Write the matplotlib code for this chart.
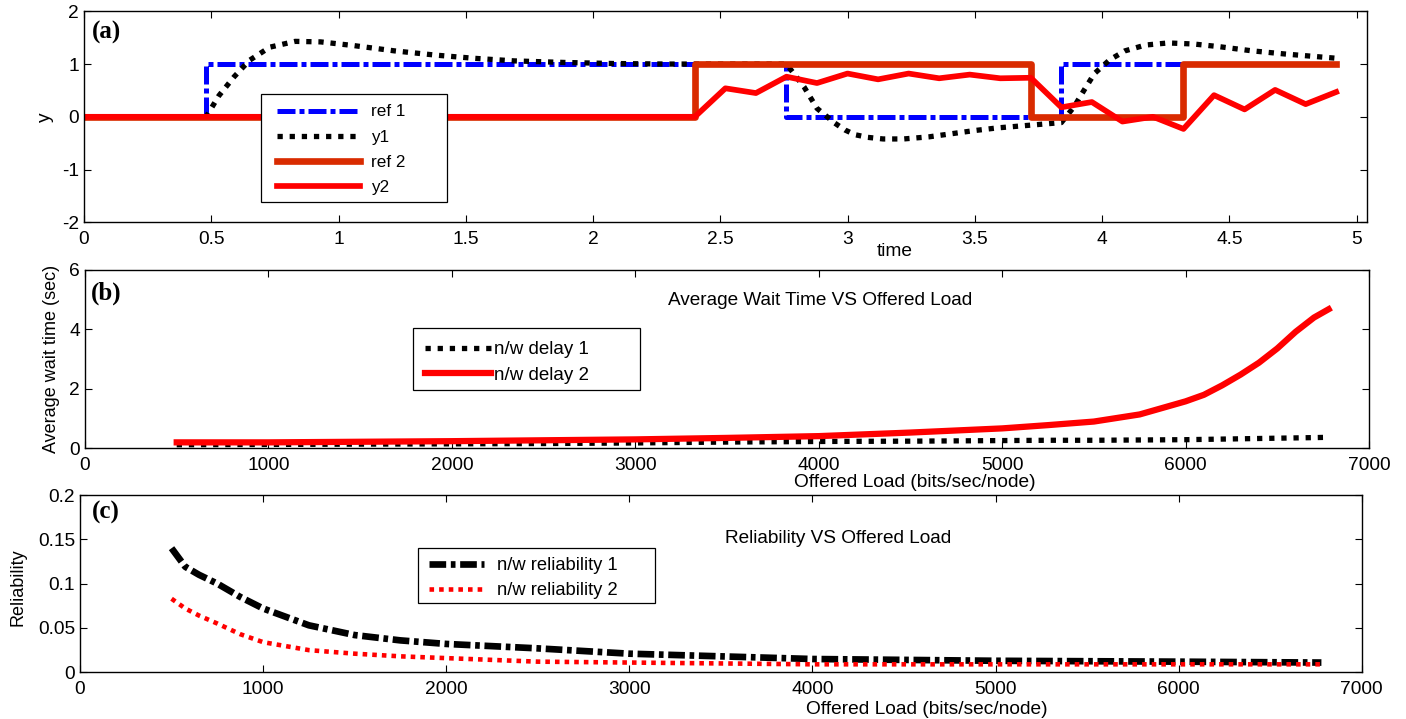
import matplotlib
matplotlib.use("Agg")
import matplotlib.pyplot as plt
from matplotlib.patches import Rectangle
from matplotlib.ticker import FuncFormatter

# ---- panel (a): step references and responses ----
ref1_t = [0, 0.48, 2.76, 3.84, 4.92]
ref1_v = [0, 1, 0, 1, 1]
ref2_t = [0, 2.40, 3.72, 4.32, 4.92]
ref2_v = [0, 1, 0, 1, 1]

y1_t = [0, 0.48, 0.53, 0.59, 0.65, 0.73, 0.83, 0.93, 1.06, 1.22, 1.38, 1.53,
        1.69, 1.89, 2.08, 2.30, 2.76, 2.83, 2.88, 2.92, 2.95, 2.99, 3.03, 3.08,
        3.14, 3.22, 3.32, 3.41, 3.50, 3.59, 3.74, 3.84, 3.89, 3.93, 3.97, 4.03,
        4.09, 4.17, 4.26, 4.36, 4.46, 4.59, 4.72, 4.92]
y1_v = [0, 0, 0.40, 0.76, 1.07, 1.32, 1.43, 1.42, 1.35, 1.25, 1.17, 1.11,
        1.06, 1.03, 1.01, 1.00, 1.00, 0.56, 0.16, 0.00, -0.12, -0.25, -0.34, -0.39,
        -0.42, -0.42, -0.38, -0.32, -0.26, -0.21, -0.15, -0.11, 0.19, 0.51, 0.82, 1.08,
        1.25, 1.36, 1.40, 1.38, 1.33, 1.25, 1.19, 1.11]

y2_t = [0, 2.40, 2.52, 2.64, 2.76, 2.88, 3.00, 3.12, 3.24, 3.36, 3.48, 3.60,
        3.72, 3.84, 3.96, 4.08, 4.20, 4.32, 4.44, 4.56, 4.68, 4.80, 4.92]
y2_v = [0, 0, 0.54, 0.45, 0.76, 0.64, 0.82, 0.71, 0.82, 0.73, 0.80, 0.73,
        0.74, 0.18, 0.28, -0.09, 0.00, -0.23, 0.41, 0.14, 0.51, 0.24, 0.47]

# ---- panel (b): average wait time ----
load_b = [500, 1000, 1500, 2000, 2500, 3000, 3500, 4000, 4500, 5000, 5250,
          5500, 5750, 6000, 6100, 6200, 6300, 6400, 6500, 6600, 6700, 6780]
delay1 = [0.12, 0.13, 0.14, 0.15, 0.16, 0.18, 0.21, 0.23, 0.24, 0.26, 0.27,
          0.27, 0.28, 0.29, 0.30, 0.31, 0.32, 0.33, 0.34, 0.35, 0.36, 0.37]
delay2 = [0.20, 0.20, 0.22, 0.24, 0.27, 0.30, 0.35, 0.41, 0.53, 0.67, 0.78,
          0.90, 1.14, 1.58, 1.80, 2.12, 2.48, 2.88, 3.36, 3.92, 4.40, 4.68]

# ---- panel (c): reliability ----
load_c = [500, 575, 650, 750, 875, 1000, 1250, 1500, 1750, 2000, 2500, 3000,
          3500, 4000, 4500, 5000, 6000, 6780]
rel1 = [0.140, 0.119, 0.110, 0.100, 0.085, 0.072, 0.053, 0.042, 0.036, 0.032,
        0.027, 0.021, 0.018, 0.015, 0.014, 0.013, 0.012, 0.011]
rel2 = [0.083, 0.072, 0.064, 0.055, 0.043, 0.034, 0.025, 0.021, 0.018, 0.016,
        0.012, 0.011, 0.010, 0.009, 0.009, 0.009, 0.009, 0.009]

W, H = 1406, 719
FS = 13.8
plt.rcParams["font.family"] = ["Liberation Sans", "DejaVu Sans"]
SERIF = ["Liberation Serif", "DejaVu Serif"]


def px_rect(left, top, right, bottom):
    return [left / W, 1 - bottom / H, (right - left) / W, (bottom - top) / H]


def style_axes(ax):
    for spine in ax.spines.values():
        spine.set_linewidth(1.0)
    ax.tick_params(direction="in", top=True, right=True, length=5, width=0.8,
                   labelsize=FS)
    ax.tick_params(axis="x", pad=6)
    ax.tick_params(axis="y", pad=3.5)
    ax.xaxis.set_major_formatter(FuncFormatter(lambda v, _: "%g" % v))
    ax.yaxis.set_major_formatter(FuncFormatter(lambda v, _: "%g" % v))


def boxed_legend(fig, handles, labels, box, anchor, size, hlen, hpad, spacing):
    l, t, r, b = box
    fig.add_artist(Rectangle((l / W, 1 - b / H), (r - l) / W, (b - t) / H,
                             transform=fig.transFigure, facecolor="white",
                             edgecolor="black", linewidth=0.9))
    fig.legend(handles, labels, loc="upper left",
               bbox_to_anchor=(anchor[0] / W, 1 - anchor[1] / H),
               frameon=False, borderpad=0, borderaxespad=0, fontsize=size,
               handlelength=hlen, handletextpad=hpad, labelspacing=spacing)


fig = plt.figure(figsize=(W / 100, H / 100), dpi=100)

# (a)
ax1 = fig.add_axes(px_rect(84, 11.3, 1367, 222.3))
h1, = ax1.step(ref1_t, ref1_v, where="post", color="#0000FF", lw=3.6,
               dashes=(3.6, 0.8, 1, 0.8))
h2, = ax1.plot(y1_t, y1_v, color="black", lw=3.8, dashes=(1, 1.3))
h3, = ax1.step(ref2_t, ref2_v, where="post", color="#D92B00", lw=4.8)
h4, = ax1.plot(y2_t, y2_v, color="#FF0000", lw=4.1)
ax1.set_xlim(0, 5.041)
ax1.set_ylim(-2, 2)
ax1.set_xticks([0, 0.5, 1, 1.5, 2, 2.5, 3, 3.5, 4, 4.5, 5])
ax1.set_yticks([-2, -1, 0, 1, 2])
style_axes(ax1)
ax1.set_xlabel("time", fontsize=FS, va="center")
ax1.xaxis.set_label_coords(0.632, -0.14)
ax1.set_ylabel("y", fontsize=FS, va="center")
ax1.yaxis.set_label_coords(-0.0304, 0.5)
ax1.text(0.0175, 0.9, "(a)", transform=ax1.transAxes, ha="center", va="center",
         fontsize=18, fontweight="bold", family=SERIF)
boxed_legend(fig, [h1, h2, h3, h4], ["ref 1", "y1", "ref 2", "y2"],
             (261, 94.3, 447, 201.5), (276.7, 104.5), 12.3, 4.87, 0.63, 0.6)

# (b)
ax2 = fig.add_axes(px_rect(85, 270, 1369, 448.3))
g1, = ax2.plot(load_b, delay1, color="black", lw=3.8, dashes=(1, 1.3))
g2, = ax2.plot(load_b, delay2, color="#FF0000", lw=4.5)
ax2.set_xlim(0, 7000)
ax2.set_ylim(0, 6)
ax2.set_xticks(range(0, 7001, 1000))
ax2.set_yticks([0, 2, 4, 6])
style_axes(ax2)
ax2.set_xlabel("Offered Load (bits/sec/node)", fontsize=FS, va="center")
ax2.xaxis.set_label_coords(0.646, -0.19)
ax2.set_ylabel("Average wait time (sec)", fontsize=13, va="center")
ax2.yaxis.set_label_coords(-0.0259, 0.5)
ax2.text(0.5725, 0.828, "Average Wait Time VS Offered Load", transform=ax2.transAxes,
         ha="center", va="center", fontsize=13.7)
ax2.text(0.0164, 0.87, "(b)", transform=ax2.transAxes, ha="center", va="center",
         fontsize=18, fontweight="bold", family=SERIF)
boxed_legend(fig, [g1, g2], ["n/w delay 1", "n/w delay 2"],
             (412.6, 327.9, 640, 389.8), (425, 341.3), 13.5, 3.5, 0.17, 0.45)

# (c)
ax3 = fig.add_axes(px_rect(80, 495, 1361.7, 672.3))
k1, = ax3.plot(load_c, rel1, color="black", lw=4.8, dashes=(2.5, 0.7, 0.7, 0.7))
k2, = ax3.plot(load_c, rel2, color="#FF0000", lw=3.3, dashes=(1, 1.1))
ax3.set_xlim(0, 7000)
ax3.set_ylim(0, 0.2)
ax3.set_xticks(range(0, 7001, 1000))
ax3.set_yticks([0, 0.05, 0.1, 0.15, 0.2])
style_axes(ax3)
ax3.set_xlabel("Offered Load (bits/sec/node)", fontsize=FS, va="center")
ax3.xaxis.set_label_coords(0.661, -0.207)
ax3.set_ylabel("Reliability", fontsize=13, va="center")
ax3.yaxis.set_label_coords(-0.0484, 0.481)
ax3.text(0.5914, 0.755, "Reliability VS Offered Load", transform=ax3.transAxes,
         ha="center", va="center", fontsize=13.7)
ax3.text(0.0198, 0.9, "(c)", transform=ax3.transAxes, ha="center", va="center",
         fontsize=18, fontweight="bold", family=SERIF)
boxed_legend(fig, [k1, k2], ["n/w reliability 1", "n/w reliability 2"],
             (418.4, 547.8, 654.5, 602.7), (428.7, 557.4), 13.2, 3.03, 0.67, 0.43)

fig.savefig("out.png", dpi=100, facecolor="white")
